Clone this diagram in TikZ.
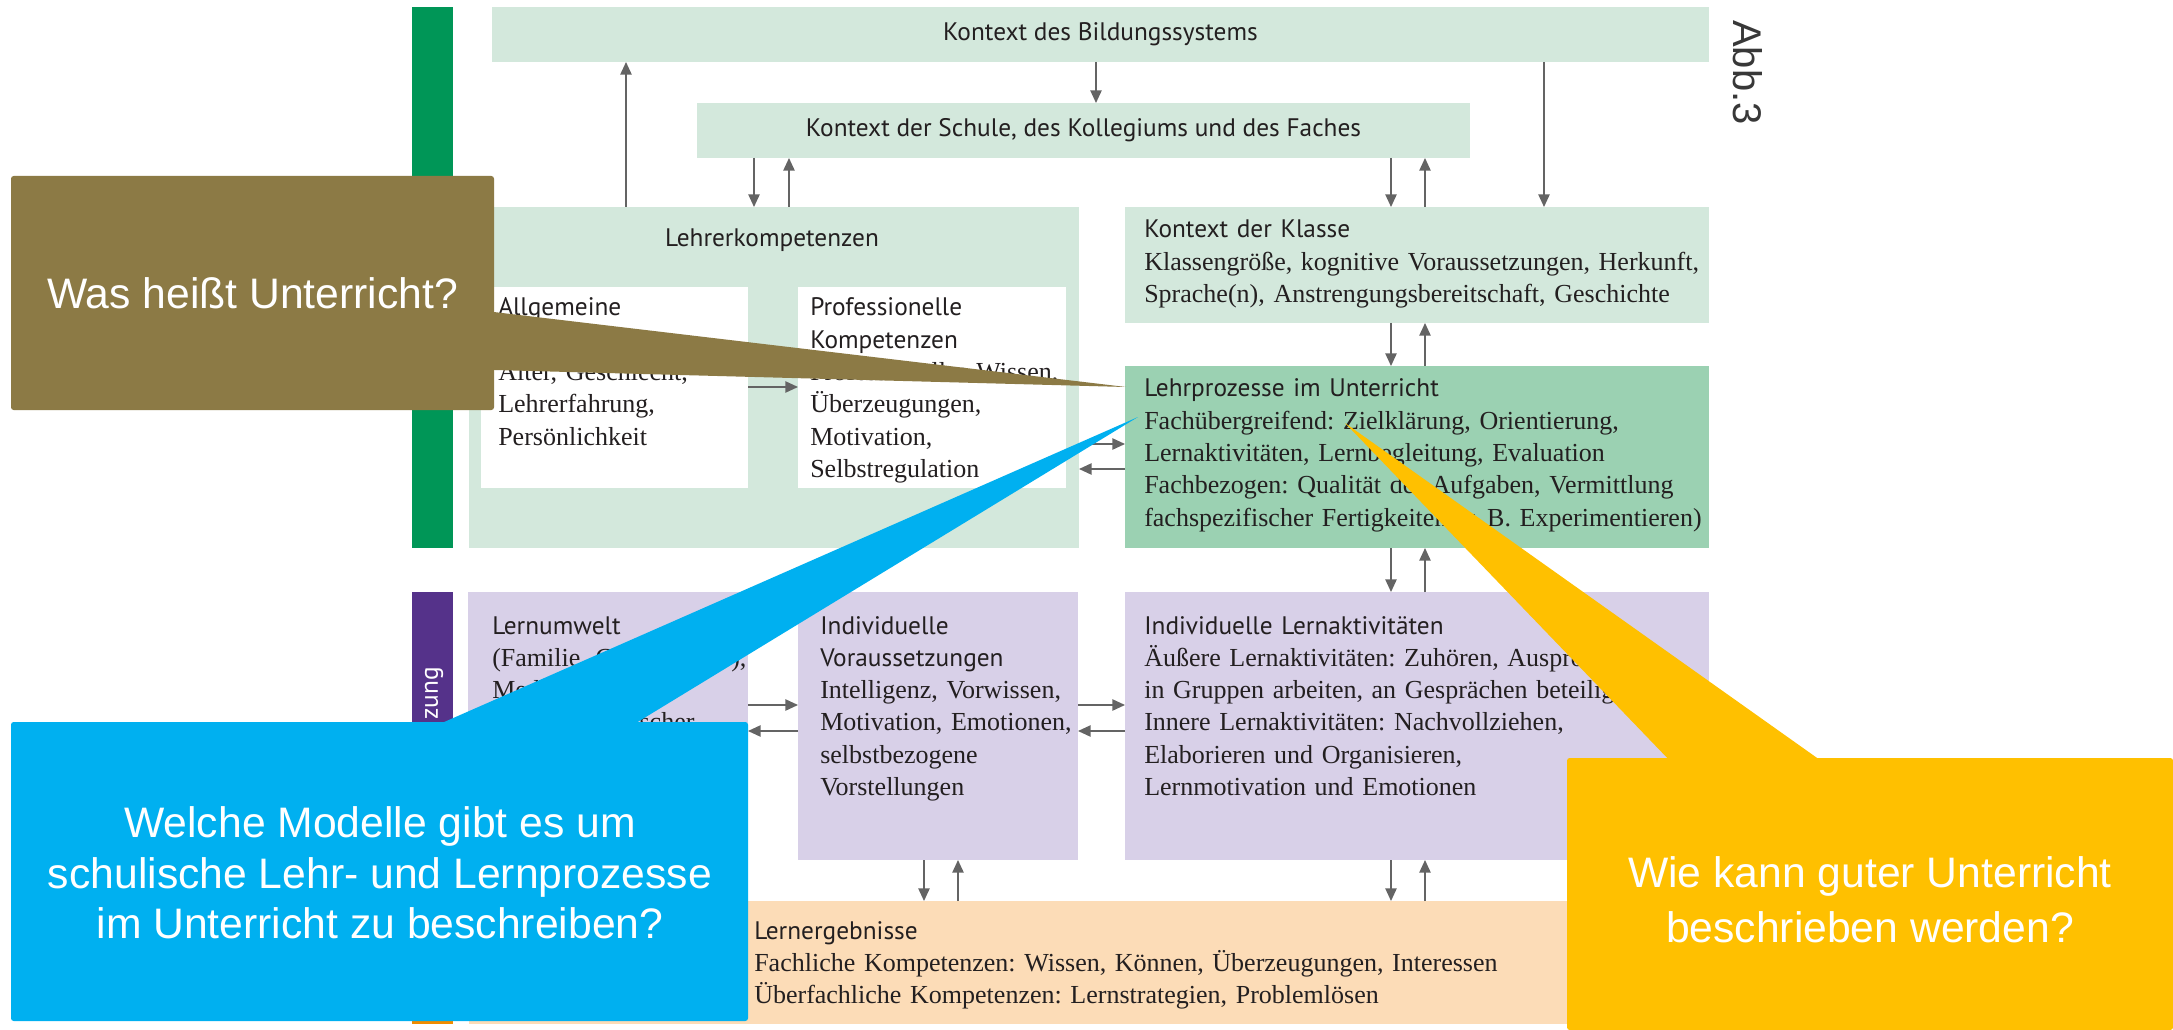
\documentclass[tikz,border=0pt]{standalone}
\usepackage{fontspec}
\setmainfont{Liberation Serif}
\newfontfamily\hdfont{PT Sans}
\newfontfamily\callfont{Liberation Sans}
\usetikzlibrary{arrows.meta,fit}
\frenchspacing

\definecolor{paleGreen}{RGB}{211,232,220}
\definecolor{midGreen}{RGB}{155,209,178}
\definecolor{lavender}{RGB}{216,208,232}
\definecolor{peach}{RGB}{252,220,183}
\definecolor{barGreen}{RGB}{0,150,87}
\definecolor{barPurple}{RGB}{85,50,138}
\definecolor{barOrange}{RGB}{240,140,0}
\definecolor{calloutBrown}{RGB}{140,122,69}
\definecolor{calloutBlue}{RGB}{0,176,240}
\definecolor{calloutYellow}{RGB}{255,192,0}
\definecolor{arrowGrey}{RGB}{100,100,100}
\definecolor{inkDark}{RGB}{35,31,32}

\newcommand{\hd}[1]{{\hdfont\fontsize{19}{24.2}\selectfont #1}}

\tikzset{
  panel/.style={fill=#1, draw=none, inner sep=0pt, outer sep=0pt},
  bodytext/.style={anchor=base west, inner sep=0pt, text width=25cm, align=left,
    text=inkDark, font=\fontsize{19.5}{24.2}\selectfont},
  headtext/.style={inner sep=0pt, text=inkDark, font=\hdfont\fontsize{19}{24.2}\selectfont},
  link/.style={draw=arrowGrey, line width=1.1pt, -{Triangle[length=9.5pt,width=8.5pt]}},
  bubble/.style={fill=#1, draw=none, inner sep=0pt, outer sep=0pt, rounded corners=2pt},
  bubbletext/.style={text=white, align=center, inner sep=0pt,
    font=\callfont\fontsize{32}{39.5}\selectfont},
}

\begin{document}
\begin{tikzpicture}[x=0.75pt,y=-0.75pt]
\useasboundingbox (0,0) rectangle (2173,1030);
\fill[white] (0,0) rectangle (2173,1030);

% side bars
\node[panel=barGreen,  fit={(412,7) (453,548)}]   (barTeach) {};
\node[panel=barPurple, fit={(412,592) (453,860)}] (barLearn) {};
\node[panel=barOrange, fit={(412,901) (453,1024)}] (barResult) {};
\node[rotate=90, anchor=east, inner sep=0pt, text=white,
  font=\hdfont\fontsize{19}{19}\selectfont] (learnLabel) at (434,667) {zung};

% context boxes
\node[panel=paleGreen, fit={(492,7) (1709,62)}]    (bild) {};
\node[panel=paleGreen, fit={(697,103) (1470,158)}] (schule) {};
\node[panel=paleGreen, fit={(469,207) (1079,548)}] (lk) {};
\node[panel=white,     fit={(481,287) (748,488)}]  (allg) {};
\node[panel=white,     fit={(798,287) (1066,488)}] (prof) {};
\node[panel=paleGreen, fit={(1125,207) (1709,323)}] (klasse) {};
\node[panel=midGreen,  fit={(1125,366) (1709,548)}] (lehr) {};

% learner boxes
\node[panel=lavender, fit={(468,592) (748,860)}]   (lum) {};
\node[panel=lavender, fit={(798,592) (1078,860)}]  (vor) {};
\node[panel=lavender, fit={(1125,592) (1709,860)}] (lakt) {};
\node[panel=peach,    fit={(469,901) (1709,1024)}] (lerg) {};

% texts
\node[headtext] (bildT) at (bild.center) {Kontext des Bildungssystems};
\node[headtext] (schuleT) at (schule.center) {Kontext der Schule, des Kollegiums und des Faches};
\node[headtext] (lkT) at (772,240) {Lehrerkompetenzen};

\node[bodytext] (allgT) at (498,316) {\hd{Allgemeine}\\[24.2pt]
  Alter, Geschlecht,\\ Lehrerfahrung,\\ Persönlichkeit};
\node[bodytext] (profT) at (810,316) {\hd{Professionelle}\\ \hd{Kompetenzen}\\
  Professionelles Wissen,\\ Überzeugungen,\\ Motivation,\\ Selbstregulation};
\node[bodytext] (klasseT) at (1144,238) {\hd{Kontext der Klasse}\\
  Klassengröße, kognitive Voraussetzungen, Herkunft,\\
  Sprache(n), Anstrengungsbereitschaft, Geschichte};
\node[bodytext] (lehrT) at (1144,397) {\hd{Lehrprozesse im Unterricht}\\
  Fachübergreifend: Zielklärung, Orientierung,\\
  Lernaktivitäten, Lernbegleitung, Evaluation\\
  Fachbezogen: Qualität der Aufgaben, Vermittlung\\
  fachspezifischer Fertigkeiten (z.\,B. Experimentieren)};
\node[bodytext] (lumT) at (492,634) {\hd{Lernumwelt}\\
  (Familie, Gleichaltrige),\\ Medien,\\ sozioökonomischer};
\node[bodytext] (vorT) at (820,634) {\hd{Individuelle}\\ \hd{Voraussetzungen}\\
  Intelligenz, Vorwissen,\\ Motivation, Emotionen,\\ selbstbezogene\\ Vorstellungen};
\node[bodytext] (laktT) at (1144,634) {\hd{Individuelle Lernaktivitäten}\\
  Äußere Lernaktivitäten: Zuhören, Ausprobieren,\\
  in Gruppen arbeiten, an Gesprächen beteiligen\\
  Innere Lernaktivitäten: Nachvollziehen,\\
  Elaborieren und Organisieren,\\
  Lernmotivation und Emotionen};
\node[bodytext] (lergT) at (754,939) {\hd{Lernergebnisse}\\
  Fachliche Kompetenzen: Wissen, Können, Überzeugungen, Interessen\\
  Überfachliche Kompetenzen: Lernstrategien, Problemlösen};

\node[rotate=-90, anchor=west, inner sep=0pt, text=black!78,
  font=\callfont\fontsize{30}{30}\selectfont] (abb) at (1748,20) {Abb.3};

% columns and rows of the connectors
\coordinate (colA) at (626,0);
\coordinate (colB) at (1096,0);
\coordinate (colC) at (1544,0);
\coordinate (colD) at (754,0);
\coordinate (colE) at (789,0);
\coordinate (colF) at (1391,0);
\coordinate (colG) at (1425,0);
\coordinate (colH) at (924,0);
\coordinate (colI) at (958,0);
\coordinate (rowA) at (0,387);
\coordinate (rowB) at (0,444);
\coordinate (rowC) at (0,469);
\coordinate (rowD) at (0,705);
\coordinate (rowE) at (0,731);

\draw[link] (lk.north -| colA) -- (bild.south -| colA);
\draw[link] (bild.south -| colB) -- (schule.north -| colB);
\draw[link] (bild.south -| colC) -- (klasse.north -| colC);
\draw[link] (schule.south -| colD) -- (lk.north -| colD);
\draw[link] (lk.north -| colE) -- (schule.south -| colE);
\draw[link] (schule.south -| colF) -- (klasse.north -| colF);
\draw[link] (klasse.north -| colG) -- (schule.south -| colG);
\draw[link] (klasse.south -| colF) -- (lehr.north -| colF);
\draw[link] (lehr.north -| colG) -- (klasse.south -| colG);
\draw[link] (lehr.south -| colF) -- (lakt.north -| colF);
\draw[link] (lakt.north -| colG) -- (lehr.south -| colG);
\draw[link] (lakt.south -| colF) -- (lerg.north -| colF);
\draw[link] (lerg.north -| colG) -- (lakt.south -| colG);
\draw[link] (vor.south -| colH) -- (lerg.north -| colH);
\draw[link] (lerg.north -| colI) -- (vor.south -| colI);
\draw[link] (allg.east |- rowA) -- (prof.west |- rowA);
\draw[link] (lk.east |- rowB) -- (lehr.west |- rowB);
\draw[link] (lehr.west |- rowC) -- (lk.east |- rowC);
\draw[link] (lum.east |- rowD) -- (vor.west |- rowD);
\draw[link] (vor.west |- rowE) -- (lum.east |- rowE);
\draw[link] (vor.east |- rowD) -- (lakt.west |- rowD);
\draw[link] (lakt.west |- rowE) -- (vor.east |- rowE);

% question bubbles
\node[bubble=calloutBrown, fit={(11,176) (494,410)}] (qWas) {};
\fill[calloutBrown] (487,311.2) -- (1126,387) -- (487,369.8) -- cycle;
\node[bubbletext] (qWasT) at (qWas.center) {Was heißt Unterricht?};

\node[bubble=calloutBlue, fit={(11,722) (748,1021)}] (qModel) {};
\fill[calloutBlue] (426,730) -- (1138,417) -- (624.5,730) -- cycle;
\node[bubbletext, font=\callfont\fontsize{32}{38}\selectfont] (qModelT) at (380,873)
  {Welche Modelle gibt es um\\ schulische Lehr- und Lernprozesse\\ im Unterricht zu beschreiben?};

\node[bubble=calloutYellow, fit={(1567,758) (2173,1030)}] (qGut) {};
\fill[calloutYellow] (1674,765) -- (1345,423) -- (1827,765) -- cycle;
\node[bubbletext, font=\callfont\fontsize{32}{41}\selectfont] (qGutT) at (1870,900)
  {Wie kann guter Unterricht\\ beschrieben werden?};
\end{tikzpicture}
\end{document}
